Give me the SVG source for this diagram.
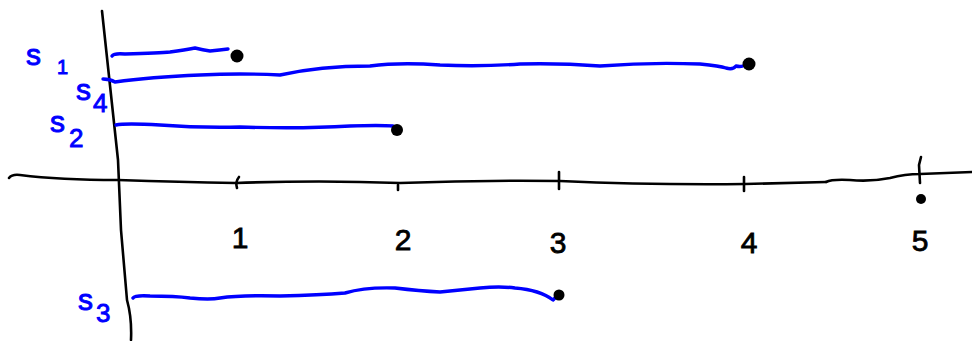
<svg xmlns="http://www.w3.org/2000/svg" width="972" height="341" viewBox="0 0 972 341">
<style>
.ax{fill:none;stroke:#000;stroke-width:2.6;stroke-linecap:round;stroke-linejoin:round}
.seg{fill:none;stroke:#0000ff;stroke-width:3.4;stroke-linecap:round;stroke-linejoin:round}
.dot{fill:#000}
.lbl{font-family:"Liberation Sans",Arial,sans-serif;fill:#0000ff;stroke:#0000ff;stroke-width:0.9}
.num{font-family:"Liberation Sans",Arial,sans-serif;fill:#000;stroke:#000;stroke-width:0.8;font-size:30px;text-anchor:middle}
</style>
<rect width="972" height="341" fill="#fff"/>
<g id="axes">
<path class="ax" d="M102,11 L118,160 L121,230 L127,300 Q132,318 131,340"/>
<path class="ax" d="M9,178 Q12,174 20,175 Q60,180 118,180 Q180,182 236,183 Q320,180 400,183 Q480,180 560,181 Q650,185 745,184 L826,182"/>
<path class="ax" d="M826,182 Q832,179 850,180 Q870,182 890,178 Q905,174 920,174 L972,172"/>
</g>
<g id="ticks">
<path class="ax" d="M239,177 Q235,182 237,188"/>
<path class="ax" d="M398,185 L398,190"/>
<path class="ax" d="M559,172 L559,189"/>
<path class="ax" d="M744,177 L744,191"/>
<path class="ax" d="M921,157 L919,165 L920,183"/>
<circle class="dot" cx="921" cy="199" r="5"/>
</g>
<g id="numbers">
<text class="num" x="240" y="248">1</text>
<text class="num" x="403" y="250">2</text>
<text class="num" x="558" y="253">3</text>
<text class="num" x="749" y="253">4</text>
<text class="num" x="920" y="251">5</text>
</g>
<g id="connectors">
<g id="s1">
<path class="seg" d="M112,56 Q114,53 125,54 Q160,53 170,52 Q185,50 195,48 Q203,50 210,51 Q220,50 228,49"/>
<circle class="dot" cx="237" cy="56" r="6.5"/>
<text class="lbl" x="26" y="65" font-size="30">s</text>
<text class="lbl" x="57" y="74" font-size="20">1</text>
</g>
<g id="s4">
<path class="seg" d="M103,79 Q110,79 115,82 Q150,77 200,75 Q240,73 280,75 Q320,66 370,66 Q400,62 440,65 Q480,67 520,64 Q560,63 600,66 Q650,62 700,64 Q720,66 726,68 Q733,70 736,66 Q740,67 743,66"/>
<circle class="dot" cx="749" cy="64" r="6.5"/>
<text class="lbl" x="76" y="100" font-size="30">s</text>
<text class="lbl" x="93" y="112" font-size="26">4</text>
</g>
<g id="s2">
<path class="seg" d="M116,125 Q125,123 160,125 Q200,128 240,127 Q300,129 350,126 Q380,125 393,126"/>
<circle class="dot" cx="397" cy="130" r="6"/>
<text class="lbl" x="50" y="132" font-size="30">s</text>
<text class="lbl" x="69" y="147" font-size="26">2</text>
</g>
<g id="s3">
<path class="seg" d="M133,298 Q135,295 150,296 Q175,296 190,298 Q210,300 220,298 Q240,295 280,296 Q320,295 345,293 Q365,287 395,288 Q420,291 440,292 Q460,290 480,288 Q500,286 515,288 Q540,290 553,300 L558,295"/>
<circle class="dot" cx="559" cy="295" r="5.5"/>
<text class="lbl" x="78" y="310" font-size="30">s</text>
<text class="lbl" x="96" y="322" font-size="26">3</text>
</g>
</g>
</svg>
